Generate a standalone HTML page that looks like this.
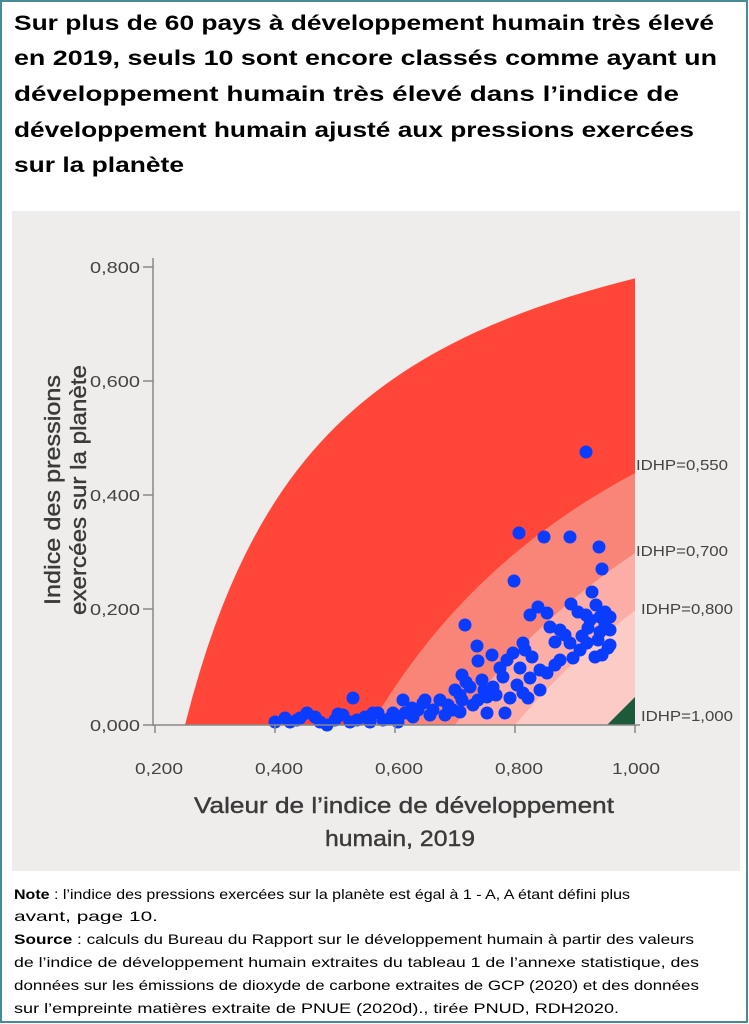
<!DOCTYPE html>
<html><head><meta charset="utf-8">
<style>
html,body{margin:0;padding:0;background:#fff;}
body{width:749px;height:1024px;overflow:hidden;position:relative;}
svg{position:absolute;left:0;top:0;}
</style></head>
<body>
<svg id="s" width="749" height="1024" viewBox="0 0 749 1024" xmlns="http://www.w3.org/2000/svg">
<rect x="1" y="1" width="746" height="1021" fill="#fff" stroke="#4a8a96" stroke-width="2"/>
<g font-family="Liberation Sans, sans-serif" font-weight="bold" font-size="21" fill="#000">
<text x="14" y="30" textLength="700" lengthAdjust="spacingAndGlyphs">Sur plus de 60 pays à développement humain très élevé</text>
<text x="14" y="65" textLength="703" lengthAdjust="spacingAndGlyphs">en 2019, seuls 10 sont encore classés comme ayant un</text>
<text x="14" y="101" textLength="665" lengthAdjust="spacingAndGlyphs">développement humain très élevé dans l’indice de</text>
<text x="14" y="137" textLength="680" lengthAdjust="spacingAndGlyphs">développement humain ajusté aux pressions exercées</text>
<text x="14" y="172" textLength="170" lengthAdjust="spacingAndGlyphs">sur la planète</text>
</g>
<rect x="12" y="211" width="728" height="660" fill="#efedeb"/>
<g id="regions"></g>
<g id="dots" fill="#0a3cff"></g>
<g stroke="#888" stroke-width="1.5" fill="none">
<line x1="153" y1="258" x2="153" y2="726"/>
<line x1="143" y1="725" x2="640" y2="725"/>
<line x1="143" y1="267" x2="153" y2="267"/>
<line x1="143" y1="381" x2="153" y2="381"/>
<line x1="143" y1="495" x2="153" y2="495"/>
<line x1="143" y1="609" x2="153" y2="609"/>
<line x1="155" y1="725" x2="155" y2="733"/>
<line x1="275" y1="725" x2="275" y2="733"/>
<line x1="395" y1="725" x2="395" y2="733"/>
<line x1="515" y1="725" x2="515" y2="733"/>
<line x1="635" y1="725" x2="635" y2="733"/>
</g>
<g font-family="Liberation Sans, sans-serif" font-size="16" fill="#444" text-anchor="end">
<text x="140" y="273" textLength="50" lengthAdjust="spacingAndGlyphs">0,800</text>
<text x="140" y="387" textLength="50" lengthAdjust="spacingAndGlyphs">0,600</text>
<text x="140" y="501" textLength="50" lengthAdjust="spacingAndGlyphs">0,400</text>
<text x="140" y="615" textLength="50" lengthAdjust="spacingAndGlyphs">0,200</text>
<text x="140" y="731" textLength="50" lengthAdjust="spacingAndGlyphs">0,000</text>
</g>
<g font-family="Liberation Sans, sans-serif" font-size="16" fill="#444">
<text x="135" y="774" textLength="48" lengthAdjust="spacingAndGlyphs">0,200</text>
<text x="255" y="774" textLength="48" lengthAdjust="spacingAndGlyphs">0,400</text>
<text x="375" y="774" textLength="48" lengthAdjust="spacingAndGlyphs">0,600</text>
<text x="495" y="774" textLength="48" lengthAdjust="spacingAndGlyphs">0,800</text>
<text x="612" y="774" textLength="48" lengthAdjust="spacingAndGlyphs">1,000</text>
</g>
<g font-family="Liberation Sans, sans-serif" font-size="15" fill="#444">
<text x="636" y="470" textLength="92" lengthAdjust="spacingAndGlyphs">IDHP=0,550</text>
<text x="636" y="556" textLength="92" lengthAdjust="spacingAndGlyphs">IDHP=0,700</text>
<text x="641" y="614" textLength="92" lengthAdjust="spacingAndGlyphs">IDHP=0,800</text>
<text x="641" y="721" textLength="92" lengthAdjust="spacingAndGlyphs">IDHP=1,000</text>
</g>
<g font-family="Liberation Sans, sans-serif" font-size="22" fill="#3a3a3a" text-anchor="middle" stroke="#3a3a3a" stroke-width="0.4">
<text x="404" y="813" textLength="420" lengthAdjust="spacingAndGlyphs">Valeur de l’indice de développement</text>
<text x="400" y="846" textLength="150" lengthAdjust="spacingAndGlyphs">humain, 2019</text>
<g transform="translate(60,490) rotate(-90)">
<text x="0" y="0" textLength="230" lengthAdjust="spacingAndGlyphs">Indice des pressions</text>
<text x="0" y="26" textLength="250" lengthAdjust="spacingAndGlyphs">exercées sur la planète</text>
</g>
</g>
<g font-family="Liberation Sans, sans-serif" font-size="14" fill="#000">
<text x="14" y="899" textLength="616" lengthAdjust="spacingAndGlyphs"><tspan font-weight="bold">Note</tspan> : l’indice des pressions exercées sur la planète est égal à 1 - A, A étant défini plus</text>
<text x="14" y="921" textLength="144" lengthAdjust="spacingAndGlyphs">avant, page 10.</text>
<text x="14" y="944" textLength="680" lengthAdjust="spacingAndGlyphs"><tspan font-weight="bold">Source</tspan> : calculs du Bureau du Rapport sur le développement humain à partir des valeurs</text>
<text x="14" y="967" textLength="685" lengthAdjust="spacingAndGlyphs">de l’indice de développement humain extraites du tableau 1 de l’annexe statistique, des</text>
<text x="14" y="990" textLength="685" lengthAdjust="spacingAndGlyphs">données sur les émissions de dioxyde de carbone extraites de GCP (2020) et des données</text>
<text x="14" y="1013" textLength="605" lengthAdjust="spacingAndGlyphs">sur l’empreinte matières extraite de PNUE (2020d)., tirée PNUD, RDH2020.</text>
</g>
</svg>
<script>
(function(){
var NS="http://www.w3.org/2000/svg";
function X(h){return 155+(h-0.2)*600;}
function Y(p){return 725-p*572.5;}
function curve(c,scale){
  var pts=[];
  for(var i=0;i<=60;i++){var h=c+(1-c)*i/60;var p=(1-c/h)*scale;pts.push(X(h).toFixed(1)+","+Y(p).toFixed(1));}
  return pts;
}
function region(c,scale,color){
  var pts=curve(c,scale);
  var d="M"+pts.join(" L")+" L"+X(1)+","+Y(0)+" Z";
  var e=document.createElementNS(NS,"path");e.setAttribute("d",d);e.setAttribute("fill",color);
  document.getElementById("regions").appendChild(e);
}
region(0.25,0.78/0.75,"#ff4638");
region(0.56,1,"#f98578");
region(0.70,1,"#fcaea6");
region(0.80,1,"#fdcbc5");
var g=document.createElementNS(NS,"path");
g.setAttribute("d","M607,725 L635,725 L635,697 Z");g.setAttribute("fill","#1d5a3a");
document.getElementById("regions").appendChild(g);
var d=[[586,452],[519,533],[544,537],[570,537],[599,547],[602,569],[514,581],[592,592],[571,604],[538,607],[530,615],[547,613],[586,615],[605,612],[610,617],[550,627],[465,625],[565,635],[588,628],[600,632],[570,643],[523,643],[477,646],[492,655],[513,653],[532,657],[587,643],[608,648],[573,658],[595,657],[478,661],[507,660],[520,668],[555,665],[547,673],[462,675],[530,678],[503,677],[482,680],[470,687],[493,687],[523,693],[460,695],[487,697],[510,698],[440,700],[423,703],[403,700],[473,705],[528,698],[353,698],[433,710],[453,710],[487,713],[505,713],[413,717],[393,713],[373,713],[343,715],[320,722],[307,713],[297,720],[275,722],[327,725],[357,720],[383,720],[300,718],[315,717],[335,720],[365,717],[378,713],[390,718],[405,713],[418,710],[448,705],[462,700],[478,700],[496,695],[517,685],[540,670],[560,660],[580,650],[598,640],[605,625],[590,620],[560,630],[578,612],[596,605],[610,645],[602,655],[540,690],[484,690],[455,690],[430,715],[445,715],[460,712],[370,722],[350,722],[285,718],[290,722],[338,714],[398,722],[412,708],[425,700],[466,682],[500,668],[525,650],[555,642],[582,636],[610,630],[600,617]];
var gd=document.getElementById("dots");
d.forEach(function(p){var c=document.createElementNS(NS,"circle");c.setAttribute("cx",p[0]);c.setAttribute("cy",p[1]);c.setAttribute("r",6.5);gd.appendChild(c);});
})();
</script>
</body></html>
